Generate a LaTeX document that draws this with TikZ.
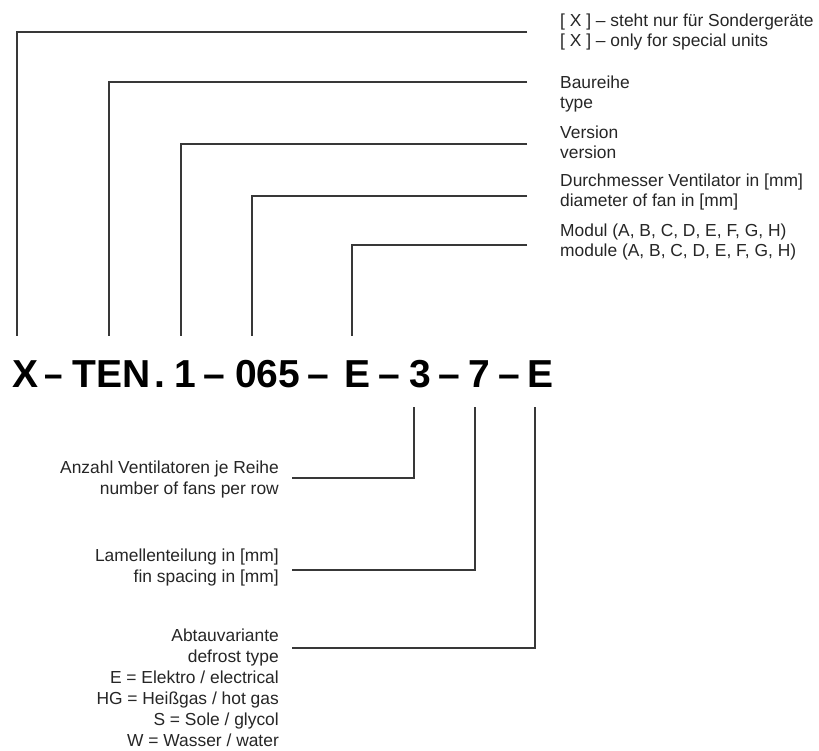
\documentclass[tikz,border=0pt]{standalone}
\usepackage{fontspec}
\setmainfont{Liberation Sans}
\begin{document}
\begin{tikzpicture}[x=1pt,y=-1pt,
  conn/.style={draw=black!78, line width=1.3pt},
  lbl/.style={inner sep=0pt, font=\fontsize{17.4}{20.5}\selectfont, align=left, anchor=north west, text=black!85},
  lblr/.style={inner sep=0pt, font=\fontsize{17.4}{21}\selectfont, align=right, anchor=north east, text=black!85},
  code/.style={inner sep=0pt, anchor=base west, font=\fontsize{39}{44}\selectfont\bfseries}]
\useasboundingbox[fill=white] (0,0) rectangle (819,751);

% type code
\node[code] (sX)   at (12,387)  {X};
\node[code] (sd1)  at (44,387)  {\scalebox{0.85}[1]{–}};
\node[code] (sTEN) at (72,387)  {TEN};
\node[code] (sdot) at (154,387) {.};
\node[code] (s1)   at (174,387) {1};
\node[code] (sd2)  at (203,387) {–};
\node[code] (s065) at (235,387) {065};
\node[code] (sd3)  at (307,387) {–};
\node[code] (sE)   at (344,387) {E};
\node[code] (sd4)  at (378,387) {–};
\node[code] (s3)   at (409,387) {3};
\node[code] (sd5)  at (438,387) {–};
\node[code] (s7)   at (468,387) {7};
\node[code] (sd6)  at (498,387) {–};
\node[code] (sE2)  at (527,387) {E};

% labels top right
\node[lbl] (lA) at (560,13.3)  {{[} X ] – steht nur für Sondergeräte\\{[} X ] – only for special units};
\node[lbl] (lB) at (560,75.5)  {Baureihe\\type};
\node[lbl] (lC) at (560,125.5) {Version\\version};
\node[lbl] (lD) at (560,173.5) {Durchmesser Ventilator in {[}mm]\\diameter of fan in {[}mm]};
\node[lbl] (lE) at (560,223.3) {Modul (A, B, C, D, E, F, G, H)\\module (A, B, C, D, E, F, G, H)};

% labels bottom left
\node[lblr] (lF) at (279,460.5) {Anzahl Ventilatoren je Reihe\\number of fans per row};
\node[lblr] (lG) at (279,548.5) {Lamellenteilung in {[}mm]\\fin spacing in {[}mm]};
\node[lblr] (lH) at (279,629) {Abtauvariante\\defrost type\\E = Elektro / electrical\\HG = Heißgas / hot gas\\S = Sole / glycol\\W = Wasser / water};

% connector end points
\coordinate (eA) at (527,32);
\coordinate (eB) at (527,82);
\coordinate (eC) at (527,144);
\coordinate (eD) at (527,196);
\coordinate (eE) at (527,245);
\coordinate (tX) at (17,336);
\coordinate (tTEN) at (109,336);
\coordinate (t1) at (181,336);
\coordinate (t065) at (252,336);
\coordinate (tE) at (352,336);
\coordinate (eF) at (292,478);
\coordinate (eG) at (292,570);
\coordinate (eH) at (292,648);
\coordinate (b3) at (414,407);
\coordinate (b7) at (475,407);
\coordinate (bE) at (535,407);

\draw[conn] (eA) -| (tX);
\draw[conn] (eB) -| (tTEN);
\draw[conn] (eC) -| (t1);
\draw[conn] (eD) -| (t065);
\draw[conn] (eE) -| (tE);
\draw[conn] (eF) -| (b3);
\draw[conn] (eG) -| (b7);
\draw[conn] (eH) -| (bE);
\end{tikzpicture}
\end{document}
